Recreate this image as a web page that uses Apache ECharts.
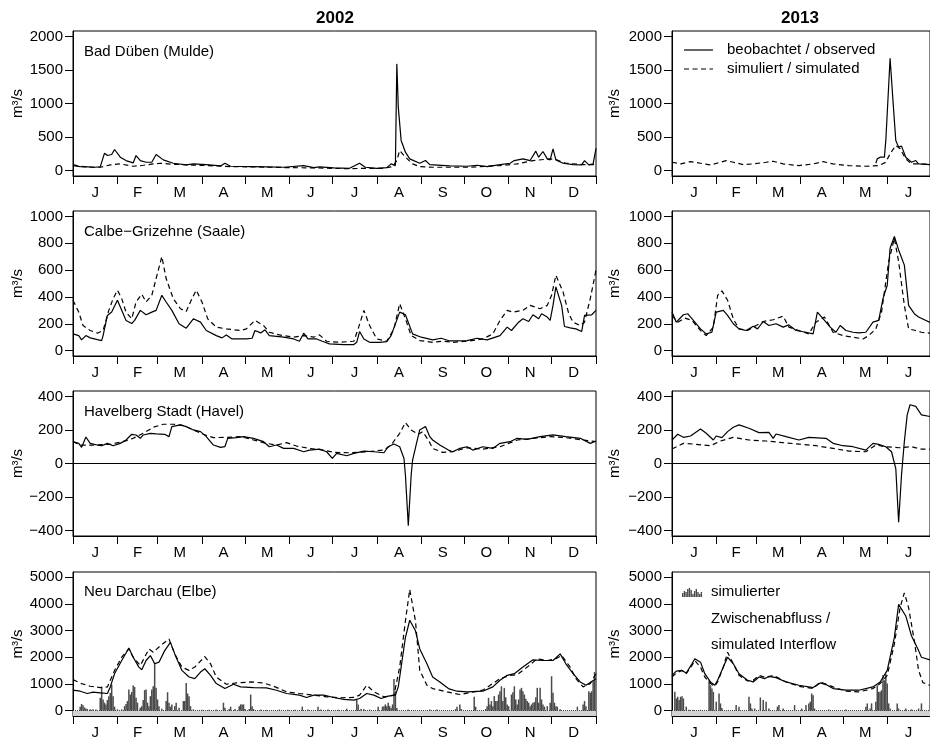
<!DOCTYPE html>
<html><head><meta charset="utf-8">
<script src="https://cdn.jsdelivr.net/npm/echarts@6/dist/echarts.min.js"></script>
<style>html,body{margin:0;padding:0;background:#fff}#c{width:930px;height:740px}</style>
</head><body><div id="c"></div><script>
// ---------- tick labels / categories ----------
const monthLabels02 = ['J','F','M','A','M','J','J','A','S','O','N','D'];
const monthLabels13 = ['J','F','M','A','M','J'];
const monthStarts02 = [0,31,59,90,120,151,181,212,243,273,304,334,365];
const monthStarts13 = [0,31,59,90,120,151,181];
const yTicksDueben = [0,500,1000,1500,2000];
const yTicksCalbe = [0,200,400,600,800,1000];
const yTicksHavel = [-400,-200,0,200,400];
const yTicksDarchau = [0,1000,2000,3000,4000,5000];
const stationNames = ['Bad Düben (Mulde)','Calbe\u2212Grizehne (Saale)','Havelberg Stadt (Havel)','Neu Darchau (Elbe)'];
const yearTitles = ['2002','2013'];

// ---------- series values: [day of year, m3/s] ----------
const duebenObs02 = [[0,75],[5,60],[10,55],[15,50],[19,55],[20,60],[22,260],[24,225],[27,240],[29,315],[33,200],[37,150],[42,115],[44,225],[47,150],[51,125],[55,125],[58,240],[63,160],[70,110],[79,85],[84,100],[93,90],[103,70],[106,110],[110,65],[124,60],[135,55],[147,50],[161,75],[168,45],[172,55],[182,40],[193,35],[200,110],[204,50],[212,35],[219,45],[222,100],[225,75],[226,1590],[227,950],[229,450],[232,275],[235,175],[242,110],[246,150],[249,90],[263,70],[275,65],[282,80],[289,60],[298,90],[305,110],[308,150],[314,175],[319,150],[323,290],[325,200],[328,285],[331,175],[333,160],[335,325],[337,160],[342,110],[349,90],[355,85],[357,150],[360,85],[363,100],[365,330]];
const duebenSim02 = [[0,90],[5,65],[10,55],[15,50],[19,50],[26,85],[33,100],[42,65],[49,80],[56,100],[61,110],[70,95],[80,85],[95,75],[110,60],[130,55],[150,45],[170,40],[190,30],[216,35],[223,60],[226,150],[228,300],[229,290],[232,200],[237,100],[242,60],[251,50],[275,50],[298,75],[310,100],[321,150],[333,175],[337,165],[344,110],[356,90],[365,90]];
const duebenObs13 = [[143,110],[144,175],[146,200],[149,200],[150,450],[153,1675],[155,1050],[157,450],[159,350],[161,365],[164,200],[168,125],[171,150],[173,100],[181,90]];
const duebenSim13 = [[0,125],[6,100],[13,135],[20,110],[27,85],[34,125],[38,150],[43,125],[50,90],[57,100],[66,125],[71,140],[78,100],[89,75],[99,100],[106,135],[113,100],[124,75],[136,65],[145,75],[150,125],[153,250],[157,375],[160,325],[164,175],[168,100],[173,100],[181,95]];

const calbeObs02 = [[0,125],[4,112],[6,80],[9,112],[12,95],[17,82],[20,75],[21,112],[24,262],[27,287],[31,375],[34,300],[37,225],[41,202],[43,225],[47,300],[51,267],[55,287],[58,300],[62,412],[65,362],[69,300],[74,200],[79,167],[84,237],[89,212],[93,150],[100,112],[104,95],[107,117],[111,87],[121,87],[125,92],[127,150],[131,132],[134,155],[137,112],[147,100],[154,87],[158,70],[161,130],[164,87],[170,87],[174,70],[179,50],[189,45],[196,45],[198,62],[200,142],[203,87],[207,62],[214,62],[219,67],[222,112],[228,287],[232,267],[237,125],[243,100],[251,80],[257,92],[263,72],[275,75],[282,92],[289,80],[298,112],[303,175],[306,150],[311,212],[314,237],[318,217],[321,267],[325,237],[327,275],[331,250],[333,225],[335,337],[337,475],[341,337],[343,180],[347,170],[351,162],[355,142],[357,262],[362,267],[365,300]];
const calbeSim02 = [[0,375],[4,287],[7,187],[12,150],[17,130],[21,150],[25,300],[28,387],[31,450],[34,387],[37,287],[41,237],[44,362],[48,420],[51,362],[55,412],[58,537],[62,700],[65,537],[70,387],[75,312],[79,292],[83,387],[86,450],[90,362],[94,237],[100,175],[107,162],[117,150],[121,162],[127,225],[133,187],[137,137],[144,117],[154,100],[161,112],[168,100],[172,117],[177,70],[186,62],[196,70],[199,162],[203,300],[207,187],[212,87],[219,70],[224,162],[228,350],[232,237],[236,112],[242,75],[251,62],[258,70],[265,62],[275,70],[286,87],[293,125],[298,225],[303,300],[307,287],[314,300],[319,337],[326,312],[331,337],[334,412],[337,562],[342,437],[346,275],[349,212],[354,187],[357,212],[361,387],[365,600]];
const calbeObs13 = [[0,287],[3,212],[8,267],[11,275],[15,225],[20,162],[24,125],[28,137],[31,287],[36,300],[39,262],[43,200],[47,162],[52,150],[57,182],[60,162],[64,217],[68,187],[73,200],[78,175],[82,192],[87,150],[94,137],[99,125],[102,287],[107,225],[111,175],[115,137],[118,187],[122,150],[127,137],[131,132],[136,137],[141,212],[145,225],[148,387],[151,487],[153,762],[156,850],[159,750],[163,637],[166,337],[170,275],[173,250],[181,210]];
const calbeSim13 = [[0,262],[4,212],[9,242],[14,225],[20,150],[24,112],[29,175],[32,412],[35,445],[39,375],[43,237],[47,162],[53,150],[59,187],[64,217],[71,230],[78,257],[82,175],[89,150],[96,125],[101,212],[107,250],[113,137],[120,112],[127,100],[134,87],[138,112],[143,162],[147,287],[152,662],[156,837],[159,662],[163,337],[166,162],[171,150],[175,137],[181,130]];

const havelObs02 = [[0,130],[4,120],[6,96],[9,158],[12,120],[17,110],[20,106],[24,120],[28,106],[33,120],[37,140],[41,174],[44,170],[47,150],[49,170],[54,180],[58,176],[64,174],[67,160],[69,220],[75,230],[79,220],[84,200],[89,190],[93,160],[98,110],[103,96],[106,100],[108,150],[114,154],[119,160],[126,150],[133,130],[137,100],[142,110],[147,90],[154,90],[161,70],[165,80],[172,86],[177,70],[181,30],[184,60],[191,46],[196,60],[203,74],[210,70],[217,64],[220,100],[224,116],[228,100],[231,30],[232,-70],[234,-370],[236,-70],[237,20],[240,130],[242,200],[244,210],[246,220],[249,160],[251,140],[256,110],[262,80],[265,70],[270,90],[275,100],[279,80],[286,100],[293,90],[298,120],[305,130],[310,150],[317,144],[326,160],[335,170],[344,160],[354,150],[361,120],[365,134]];
const havelSim02 = [[0,130],[5,110],[14,110],[26,114],[35,130],[42,150],[49,180],[56,216],[63,234],[70,234],[77,226],[84,200],[91,174],[98,154],[107,156],[117,160],[126,140],[135,120],[142,110],[149,124],[156,104],[165,90],[175,80],[182,66],[193,64],[205,70],[217,80],[222,110],[228,180],[232,244],[236,200],[241,174],[244,190],[248,140],[251,90],[258,66],[265,70],[275,94],[286,86],[298,100],[310,140],[321,150],[333,160],[344,154],[356,140],[365,130]];
const havelObs13 = [[0,140],[4,174],[8,156],[13,164],[20,206],[24,180],[29,140],[31,164],[35,154],[39,190],[43,216],[47,230],[54,210],[61,184],[68,186],[71,150],[73,176],[80,160],[89,140],[96,156],[108,150],[113,120],[120,106],[127,100],[136,80],[141,120],[145,114],[150,100],[154,70],[157,-30],[159,-350],[161,-70],[163,130],[165,290],[167,350],[171,340],[175,290],[181,280]];
const havelSim13 = [[0,86],[8,120],[15,116],[27,106],[34,134],[43,156],[54,140],[66,134],[78,124],[89,116],[101,106],[113,90],[124,74],[136,70],[143,110],[150,100],[159,94],[168,100],[175,86],[181,85]];

const darchauObs02 = [[0,767],[5,730],[10,644],[14,693],[19,668],[24,644],[26,891],[29,1386],[34,1881],[39,2351],[42,2005],[46,1634],[48,1535],[51,1881],[54,2067],[57,1757],[60,1819],[64,2252],[68,2562],[71,2129],[76,1510],[81,1262],[85,1200],[89,1448],[92,1572],[96,1324],[100,1015],[106,829],[112,990],[117,891],[126,866],[135,854],[142,767],[149,644],[158,582],[163,495],[168,582],[175,582],[182,495],[189,421],[196,396],[200,458],[205,644],[210,582],[215,458],[220,545],[225,582],[227,891],[229,1634],[232,2747],[235,3391],[239,2995],[242,2314],[247,1757],[251,1262],[256,1077],[262,829],[268,730],[275,705],[286,730],[293,891],[298,1139],[303,1324],[308,1386],[314,1634],[321,1906],[328,1881],[335,1881],[340,2129],[344,1757],[349,1386],[354,1077],[358,953],[365,1200]];
const darchauSim02 = [[0,1163],[6,1015],[12,916],[19,866],[24,891],[29,1510],[34,2005],[39,2314],[42,2005],[47,1695],[50,2005],[53,2314],[56,2190],[61,2438],[67,2686],[71,2129],[76,1634],[81,1510],[85,1634],[92,2030],[96,1757],[100,1262],[107,990],[114,1040],[124,1077],[133,1040],[140,916],[149,705],[158,644],[168,582],[177,520],[186,483],[196,495],[200,582],[205,953],[210,705],[217,520],[224,582],[228,1634],[232,3366],[235,4542],[239,3366],[242,1510],[247,953],[251,829],[261,705],[270,606],[286,767],[298,1200],[305,1324],[310,1350],[317,1634],[324,1943],[331,1881],[337,1943],[341,2067],[347,1634],[351,1200],[356,891],[361,1015],[365,1386]];
const darchauObs13 = [[0,1324],[3,1485],[7,1510],[10,1411],[14,1757],[16,1943],[20,1819],[23,1386],[27,1077],[30,953],[32,1139],[36,1634],[39,2005],[43,1757],[47,1386],[53,1139],[57,1077],[61,1262],[65,1200],[68,1287],[73,1238],[80,1077],[89,953],[99,866],[104,1040],[108,978],[113,829],[122,767],[131,767],[141,891],[146,1077],[151,1510],[156,2747],[159,3985],[160,4047],[164,3552],[168,2809],[173,2252],[175,2005],[181,1900]];
const darchauSim13 = [[0,1262],[3,1411],[7,1510],[10,1386],[14,1695],[16,1881],[20,1634],[23,1262],[27,1015],[30,916],[32,1077],[36,1634],[39,2190],[43,1757],[47,1324],[53,1114],[57,1139],[61,1324],[66,1238],[71,1324],[80,1077],[89,916],[99,829],[104,1077],[113,891],[122,730],[131,705],[141,829],[146,1015],[151,1324],[156,2500],[160,3861],[163,4418],[166,3861],[170,2624],[173,1510],[176,1050],[181,950]];

const interflow02 = [[5,150],[6,250],[7,200],[8,120],[9,80],[10,60],[12,50],[14,50],[16,40],[19,480],[20,900],[21,420],[22,300],[23,235],[24,400],[25,545],[26,670],[27,980],[28,545],[29,150],[31,50],[34,50],[36,170],[37,250],[38,360],[39,790],[40,605],[41,700],[42,940],[43,890],[44,480],[45,300],[47,110],[48,170],[49,400],[50,770],[51,790],[52,300],[53,170],[54,545],[55,790],[56,915],[57,1800],[58,855],[59,420],[60,170],[62,75],[65,360],[66,690],[67,300],[68,150],[69,235],[71,170],[72,300],[74,110],[77,360],[78,360],[79,1040],[80,645],[81,545],[82,170],[84,50],[90,30],[95,30],[100,40],[105,300],[106,110],[109,60],[110,150],[113,60],[116,170],[117,235],[118,235],[119,235],[120,60],[123,60],[124,605],[125,170],[126,60],[131,40],[135,30],[144,40],[150,30],[155,30],[160,150],[164,40],[171,150],[173,40],[178,40],[185,30],[191,75],[198,420],[199,235],[201,60],[203,60],[207,40],[213,150],[216,150],[217,170],[218,235],[219,170],[220,300],[221,170],[222,100],[223,235],[224,1190],[225,730],[226,100],[234,40],[249,40],[254,40],[267,60],[268,150],[270,235],[271,60],[280,520],[281,150],[288,60],[289,170],[290,480],[291,235],[292,360],[293,170],[294,545],[295,360],[296,360],[297,605],[298,730],[299,915],[300,360],[301,855],[302,500],[303,235],[304,170],[306,605],[307,690],[308,915],[309,420],[310,235],[311,420],[312,790],[313,855],[314,730],[315,605],[316,450],[317,360],[318,300],[319,170],[320,235],[321,300],[322,320],[323,500],[324,855],[325,300],[326,855],[327,420],[328,235],[329,150],[331,170],[333,300],[334,1290],[335,670],[336,300],[337,170],[338,150],[340,50],[352,150],[356,235],[357,360],[358,170],[360,730],[361,670],[362,730],[363,1100],[364,1450]];
const interflow13 = [[2,705],[3,458],[4,520],[5,396],[6,520],[7,545],[8,458],[10,150],[12,30],[15,30],[20,30],[26,1139],[27,953],[28,829],[29,705],[31,334],[33,644],[34,272],[35,100],[45,210],[47,150],[54,520],[55,272],[56,80],[58,80],[62,495],[64,396],[66,334],[68,80],[74,150],[75,210],[78,80],[86,210],[91,80],[94,210],[96,272],[97,334],[98,644],[99,582],[100,80],[110,40],[122,40],[136,150],[137,272],[139,80],[140,272],[143,334],[144,953],[145,705],[146,705],[147,767],[148,1324],[149,1139],[150,1386],[151,1015],[152,272],[153,80],[158,272],[159,80],[164,80],[168,50],[173,80],[175,272]];

// ---------- layout ----------
const FONT = '"Liberation Sans", Arial, Helvetica, sans-serif';
const cols = [
  {left:73, width:523, max:365, starts:monthStarts02, labels:monthLabels02, ylabX:18},
  {left:672, width:259, max:181, starts:monthStarts13, labels:monthLabels13, ylabX:615}
];
const rows = [
  {top:31, height:145, min:-80, max:2080, ticks:yTicksDueben, data:[[duebenObs02,duebenSim02],[duebenObs13,duebenSim13]]},
  {top:211, height:145, min:-40, max:1040, ticks:yTicksCalbe, data:[[calbeObs02,calbeSim02],[calbeObs13,calbeSim13]]},
  {top:391, height:145, min:-432, max:432, ticks:yTicksHavel, data:[[havelObs02,havelSim02],[havelObs13,havelSim13]], zero:true},
  {top:572, height:144, min:-200, max:5200, ticks:yTicksDarchau, data:[[darchauObs02,darchauSim02],[darchauObs13,darchauSim13]], bars:[interflow02,interflow13]}
];
function mids(s){const m=[];for(let i=0;i<s.length-1;i++)m.push((s[i]+s[i+1])/2);return m;}
const fmtNum = v => v<0 ? '\u2212'+Math.abs(v) : String(v);

const grids=[], xAxes=[], yAxes=[], series=[], graphics=[];
const axisLineStyle = {color:'#000', width:1};
rows.forEach((r, ri) => {
  cols.forEach((c, ci) => {
    const idx = ri*2+ci;
    const m = mids(c.starts);
    grids.push({left:c.left, top:r.top, width:c.width, height:r.height, show:true, borderColor:'#000', borderWidth:1, backgroundColor:'transparent'});
    xAxes.push({type:'value', gridIndex:idx, min:0, max:c.max,
      axisLine:{show:true, onZero:false, lineStyle:axisLineStyle},
      axisTick:{show:true, length:8, customValues:c.starts, lineStyle:axisLineStyle},
      axisLabel:{show:true, customValues:m, margin:9, color:'#000', fontSize:15, fontFamily:FONT,
        formatter:(v)=>{const i=m.findIndex(x=>Math.abs(x-v)<0.01);return i>=0?c.labels[i]:'';}},
      splitLine:{show:false}});
    yAxes.push({type:'value', gridIndex:idx, min:r.min, max:r.max,
      axisLine:{show:true, onZero:false, lineStyle:axisLineStyle},
      axisTick:{show:true, length:8, customValues:r.ticks, lineStyle:axisLineStyle},
      axisLabel:{show:true, customValues:r.ticks, margin:10, color:'#000', fontSize:15, fontFamily:FONT, formatter:fmtNum},
      splitLine:{show:false}});
    if (r.bars) {
      series.push({type:'bar', xAxisIndex:idx, yAxisIndex:idx, data:r.bars[ci], barWidth:1.5,
        itemStyle:{color:'#4a4a4a'}, silent:true, z:1,
        markArea:{silent:true, itemStyle:{color:'#d2d2d2'}, data:[[{yAxis:r.min},{yAxis:0}]]},
        markLine:{silent:true, symbol:'none', label:{show:false}, lineStyle:{color:'#444', width:1, type:[1,1]}, data:[{yAxis:0}]}});
    }
    const [obs, sim] = r.data[ci];
    const simSeries = {type:'line', xAxisIndex:idx, yAxisIndex:idx, data:sim, symbol:'none', silent:true, z:3,
      lineStyle:{color:'#000', width:1.2, type:[5,3.5]}};
    if (r.zero) simSeries.markLine = {silent:true, symbol:'none', label:{show:false}, lineStyle:{color:'#000', width:1, type:'solid'}, data:[{yAxis:0}]};
    series.push(simSeries);
    series.push({type:'line', xAxisIndex:idx, yAxisIndex:idx, data:obs, symbol:'none', silent:true, z:4,
      lineStyle:{color:'#000', width:1.2, type:'solid'}});
    // y axis unit label
    graphics.push({type:'text', x:c.ylabX, y:r.top + r.height/2, rotation:Math.PI/2,
      style:{text:'m\u00b3/s', fill:'#000', font:'15px '+FONT, align:'center', verticalAlign:'middle', textAlign:'center', textVerticalAlign:'middle'}});
  });
  graphics.push({type:'text', x:84, y:[52,232,412,592][ri],
    style:{text:stationNames[ri], fill:'#000', font:'15px '+FONT, align:'left', verticalAlign:'middle', textAlign:'left', textVerticalAlign:'middle'}});
});
// year titles
[[335,'2002'],[800,'2013']].forEach(([x,t])=>graphics.push({type:'text', x:x, y:18,
  style:{text:t, fill:'#000', font:'bold 17px '+FONT, align:'center', verticalAlign:'middle', textAlign:'center', textVerticalAlign:'middle'}}));
// line legend
graphics.push({type:'line', shape:{x1:684,y1:50,x2:713,y2:50}, style:{stroke:'#000', lineWidth:1.2}});
graphics.push({type:'line', shape:{x1:684,y1:69,x2:713,y2:69}, style:{stroke:'#000', lineWidth:1.2, lineDash:[5,3.5]}});
graphics.push({type:'text', x:727, y:50, style:{text:'beobachtet / observed', fill:'#000', font:'15px '+FONT, align:'left', verticalAlign:'middle', textAlign:'left', textVerticalAlign:'middle'}});
graphics.push({type:'text', x:727, y:69, style:{text:'simuliert / simulated', fill:'#000', font:'15px '+FONT, align:'left', verticalAlign:'middle', textAlign:'left', textVerticalAlign:'middle'}});
// bar legend glyph
const glyph = [4,6,5,8,9,7,3,6,8,5,3,5];
glyph.forEach((h,i)=>graphics.push({type:'rect', shape:{x:682+i*1.7, y:597-h, width:1.4, height:h}, style:{fill:'#4a4a4a'}}));
['simulierter','Zwischenabfluss /','simulated Interflow'].forEach((t,i)=>graphics.push({type:'text', x:711, y:592+i*26.5,
  style:{text:t, fill:'#000', font:'15px '+FONT, align:'left', verticalAlign:'middle', textAlign:'left', textVerticalAlign:'middle'}}));

const chart = echarts.init(document.getElementById('c'), null, {renderer:'canvas'});
chart.setOption({animation:false, backgroundColor:'#fff', textStyle:{fontFamily:FONT},
  grid:grids, xAxis:xAxes, yAxis:yAxes, series:series, graphic:graphics});
</script></body></html>
